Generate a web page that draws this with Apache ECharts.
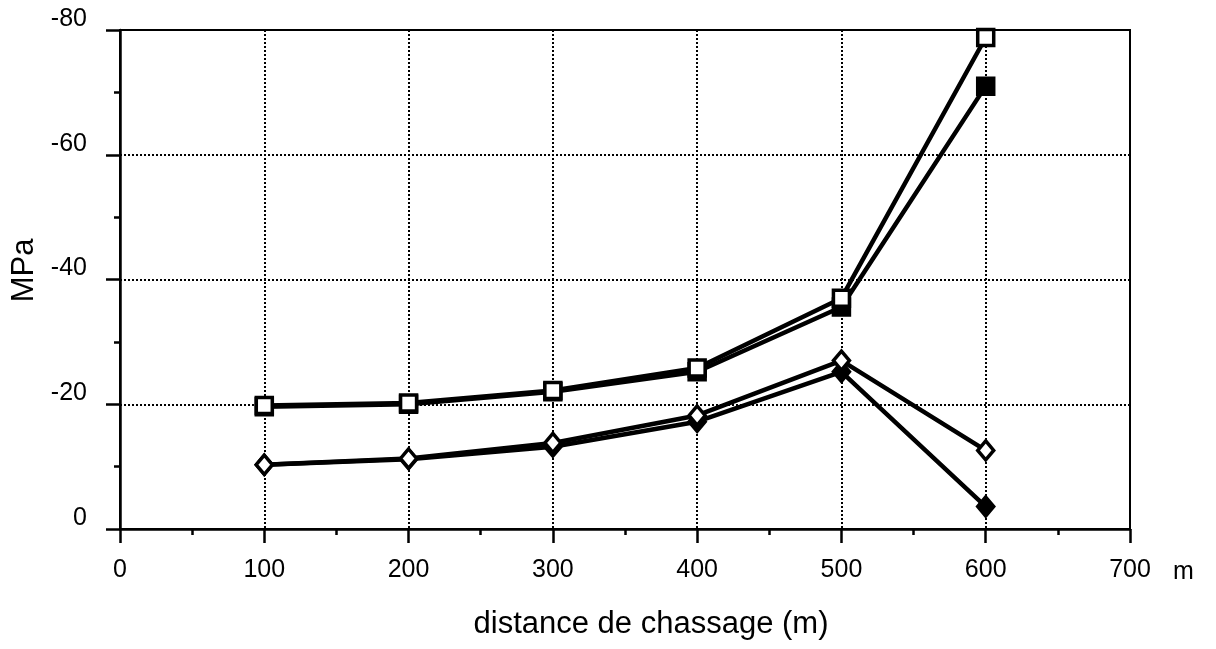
<!DOCTYPE html>
<html>
<head>
<meta charset="utf-8">
<script src="https://cdn.jsdelivr.net/npm/echarts@6/dist/echarts.min.js"></script>
<style>
html,body{margin:0;padding:0;background:#fff;}
#chart{width:1216px;height:649px;}
</style>
</head>
<body>
<div id="chart"></div>
<script>
// distance de chassage (m)
const distances = [100, 200, 300, 400, 500, 600];
// MPa values per series
const openSquare   = [-19.8, -20.2, -22.2, -25.8, -37.0, -78.8];
const filledSquare = [-19.6, -20.0, -22.0, -25.2, -35.6, -71.0];
const openDiamond  = [-10.3, -11.3, -13.8, -18.2, -27.0, -12.6];
const filledDiamond= [-10.3, -11.2, -13.2, -17.2, -25.2, -3.6];
const xTicks = [0, 100, 200, 300, 400, 500, 600, 700];
const yTicks = [-80, -60, -40, -20, 0];

const font = '"Liberation Sans", Arial, Helvetica, sans-serif';
function pairs(vals){ return distances.map((d,i)=>[d, vals[i]]); }

function mk(name, vals, symbol, filled, size){
  return {
    name: name, type: 'line', data: pairs(vals),
    symbol: symbol, symbolSize: size,
    lineStyle: {color: '#000', width: 4.5},
    itemStyle: {color: filled ? '#000' : '#fff', borderColor: '#000', borderWidth: 3.5},
    z: filled ? 3 : 4,
    animation: false
  };
}

const chart = echarts.init(document.getElementById('chart'), null, {renderer: 'canvas'});
chart.setOption({
  backgroundColor: '#fff',
  animation: false,
  grid: {left: 120, right: 86, top: 30, bottom: 120, show: true, borderColor: '#000', borderWidth: 2, backgroundColor: 'transparent'},
  xAxis: {
    type: 'value', min: xTicks[0], max: xTicks[xTicks.length-1], interval: 100,
    name: 'distance de chassage (m)', nameLocation: 'middle', nameGap: 80,
    nameTextStyle: {fontFamily: font, fontSize: 31, color: '#000', padding: [0,0,0,52]},
    axisLine: {show: true, onZero: false, lineStyle: {color: '#000', width: 2.5}},
    axisTick: {show: true, length: 14, lineStyle: {color: '#000', width: 2.5}},
    minorTick: {show: true, splitNumber: 2, length: 6, lineStyle: {color: '#000', width: 2.5}},
    axisLabel: {fontFamily: font, fontSize: 25, color: '#000', margin: 29},
    splitLine: {show: true, lineStyle: {color: '#000', type: 'dotted', width: 2}}
  },
  yAxis: {
    type: 'value', min: yTicks[0], max: yTicks[yTicks.length-1], interval: 20, inverse: true,
    name: 'MPa', nameLocation: 'middle', nameGap: 80, nameRotate: 90,
    nameTextStyle: {fontFamily: font, fontSize: 31, color: '#000', padding: [0,0,0,18]},
    axisLine: {show: true, onZero: false, lineStyle: {color: '#000', width: 2.5}},
    axisTick: {show: true, length: 14, lineStyle: {color: '#000', width: 2.5}},
    minorTick: {show: true, splitNumber: 2, length: 6, lineStyle: {color: '#000', width: 2.5}},
    axisLabel: {fontFamily: font, fontSize: 25, color: '#000', margin: 33, verticalAlign: 'bottom', lineHeight: 22},
    splitLine: {show: true, lineStyle: {color: '#000', type: 'dotted', width: 2}}
  },
  graphic: [{
    type: 'text', left: 1173, top: 560,
    style: {text: 'm', fontFamily: font, fontSize: 25, fill: '#000'}
  }],
  series: [
    mk('open square', openSquare, 'rect', false, 16),
    mk('filled square', filledSquare, 'rect', true, 16),
    mk('open diamond', openDiamond, 'diamond', false, [16, 19]),
    mk('filled diamond', filledDiamond, 'diamond', true, [16, 19])
  ]
});
</script>
</body>
</html>
